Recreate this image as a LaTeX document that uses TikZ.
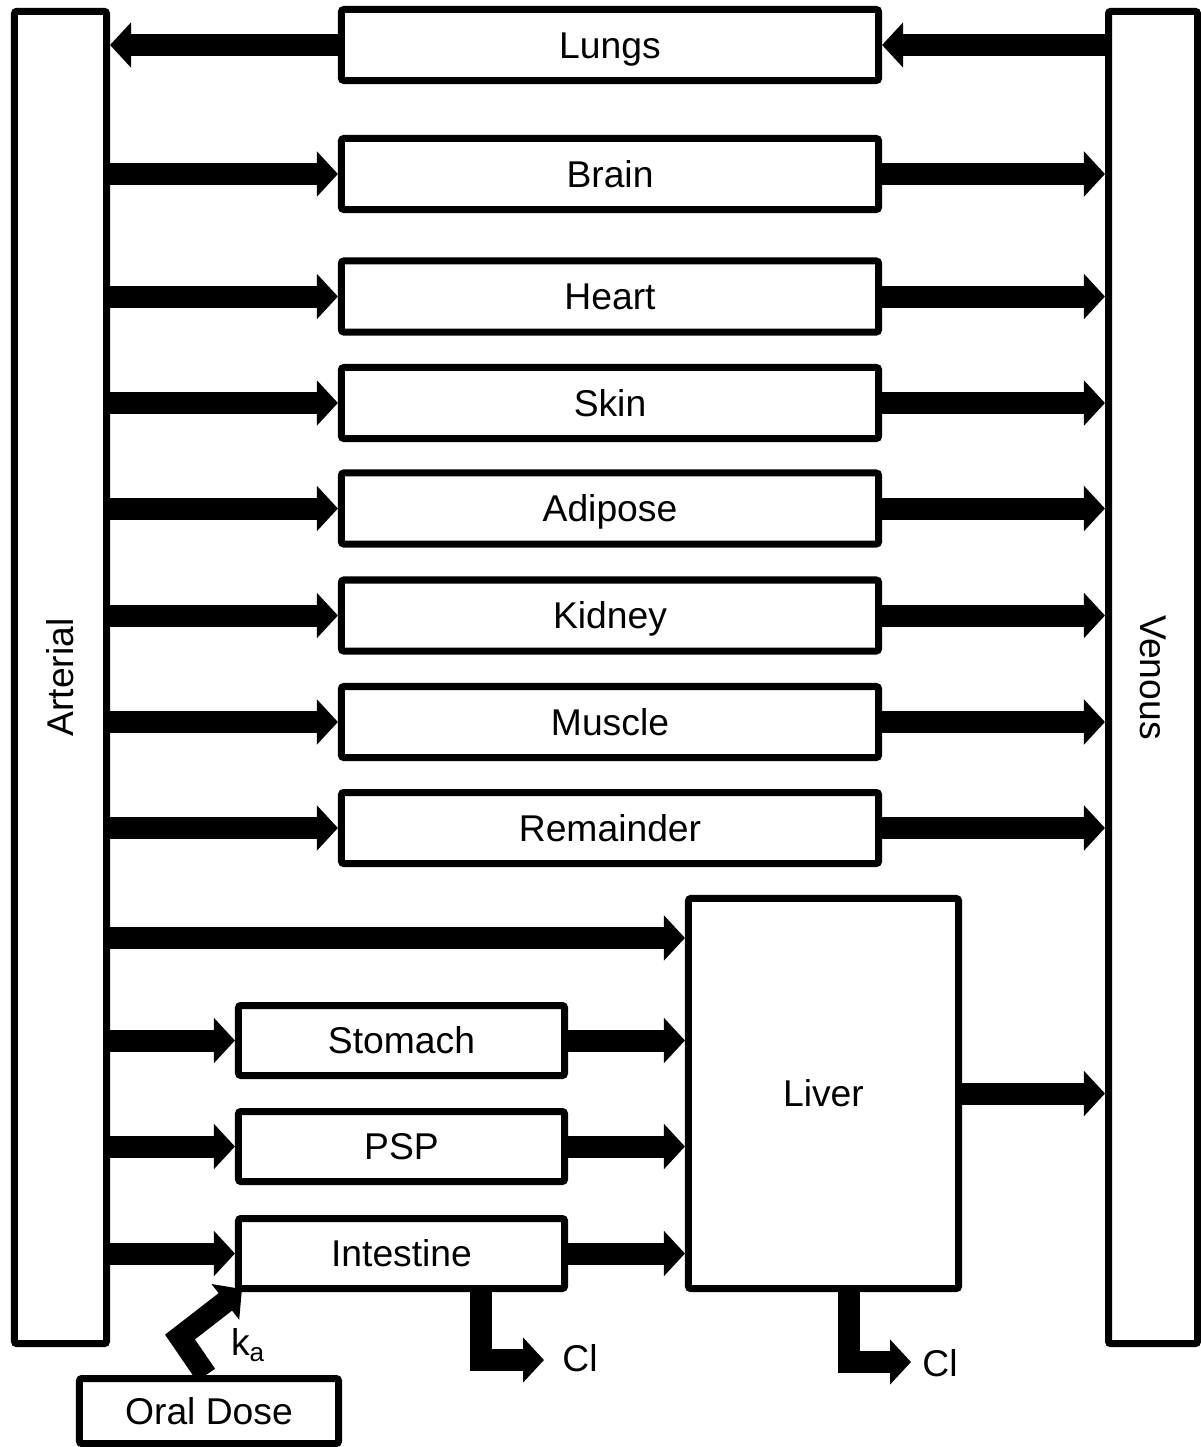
\documentclass[tikz,border=0pt]{standalone}
\usepackage{fontspec}
\setmainfont{Liberation Sans}
\usetikzlibrary{arrows.meta}

\tikzset{
  box/.style={draw, line width=0.175cm, rounded corners=0.06cm, inner sep=0pt, text height=19pt, text depth=0pt, font=\fontsize{26.5}{32}\selectfont},
  organ/.style={box, minimum width=13.425cm, minimum height=1.775cm},
  gut/.style={box, minimum width=8.15cm, minimum height=1.75cm},
  vessel/.style={box, minimum width=2.3cm, minimum height=33.3cm},
  flow/.style={line width=0.55cm, -{Triangle[width=1.1cm,length=0.525cm]}},
  lbl/.style={font=\fontsize{26.5}{32}\selectfont, inner sep=0pt}
}

\begin{document}
\begin{tikzpicture}[x=0.025cm, y=-0.025cm]
    \useasboundingbox (0,0) rectangle (1201,1447);

    % Blood pools
    \node[vessel] (art) at (60.5,677.5) {};
    \node[vessel, minimum width=2.225cm] (ven) at (1153,677.5) {};
    \node[lbl, rotate=90] (arttxt) at (art.center) {Arterial};
    \node[lbl, rotate=-90] (ventxt) at (ven.center) {Venous};

    % Lungs (venous -> arterial)
    \node[organ] (lungs) at (610,45) {Lungs};
    \draw[flow] (ven.west |- lungs.east) -- (lungs.east);
    \draw[flow] (lungs.west) -- (art.east |- lungs.west);

    % Tissues (arterial -> venous)
    \node[organ] (brain) at (610,174) {Brain};
    \node[organ] (heart) at (610,296.5) {Heart};
    \node[organ] (skin) at (610,403) {Skin};
    \node[organ] (adipose) at (610,508.5) {Adipose};
    \node[organ] (kidney) at (610,615.5) {Kidney};
    \node[organ] (muscle) at (610,722) {Muscle};
    \node[organ] (remainder) at (610,828) {Remainder};
    \foreach \n in {brain,heart,skin,adipose,kidney,muscle,remainder} {
      \draw[flow] (art.east |- \n.west) -- (\n.west);
      \draw[flow] (\n.east) -- (ven.west |- \n.east);
    }

    % Liver and gut
    \node[box, minimum width=6.75cm, minimum height=9.75cm] (liver) at (823.5,1093.5) {Liver};
    \node[gut] (stomach) at (401.5,1040.5) {Stomach};
    \node[gut] (psp) at (401.5,1146.5) {PSP};
    \node[gut] (intestine) at (401.5,1253.5) {Intestine};
    \coordinate (hepart) at ([yshift=-1.075cm]liver.north west);
    \draw[flow] (art.east |- hepart) -- (hepart);
    \foreach \n in {stomach,psp,intestine} {
      \draw[flow] (art.east |- \n.west) -- (\n.west);
      \draw[flow] (\n.east) -- (liver.west |- \n.east);
    }
    \draw[flow] (liver.east) -- (ven.west |- liver.east);

    % Clearance
    \coordinate (intcl) at (544,1360);
    \coordinate (livcl) at (911,1362);
    \draw[flow] ([xshift=1.99cm]intestine.south) |- (intcl);
    \draw[flow] ([xshift=0.625cm]liver.south) |- (livcl);
    \node[lbl] (intcltxt) at (580,1358) {Cl};
    \node[lbl] (livcltxt) at (940,1363) {Cl};

    % Oral dose
    \node[box, minimum width=6.475cm, minimum height=1.625cm] (oral) at (209,1411) {Oral Dose};
    \coordinate (kbend) at (180,1337);
    \draw[flow] ([xshift=-0.075cm]oral.north) -- (kbend) -- ([shift={(0.175cm,0.075cm)}]intestine.south west);
    \node[lbl] (ka) at (248,1345) {k\textsubscript{a}};
  \end{tikzpicture}
\end{document}
